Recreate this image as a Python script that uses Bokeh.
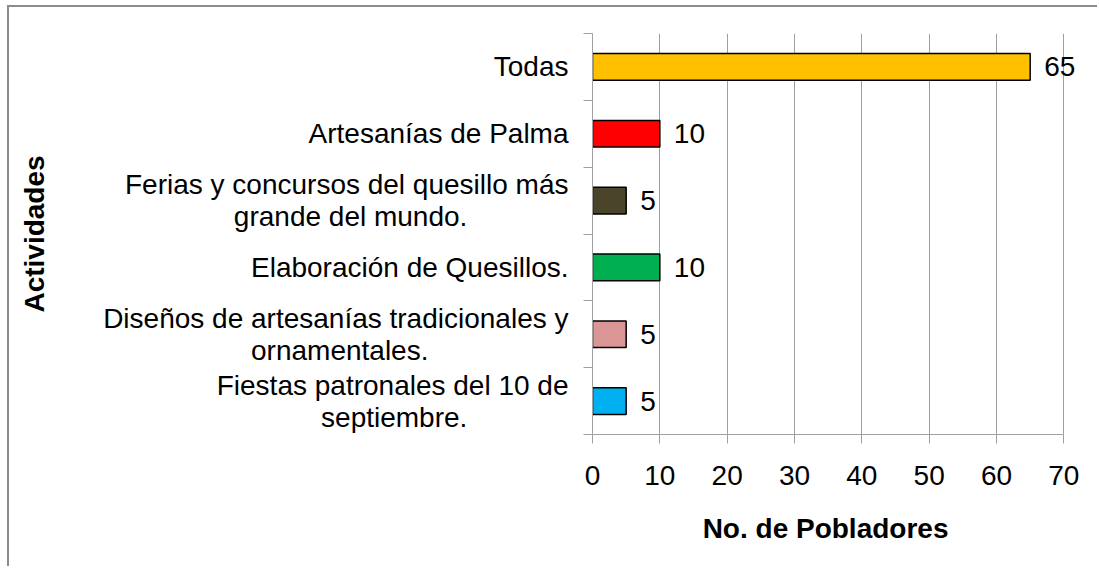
from bokeh.plotting import figure
from bokeh.models import (ColumnDataSource, Range1d, FixedTicker,
                          LinearAxis, Label)
from bokeh.embed import file_html
from bokeh.resources import INLINE

# ---- data ----
categories = [
    "Fiestas patronales del 10 de\nseptiembre.",
    "Diseños de artesanías tradicionales y\nornamentales.",
    "Elaboración de Quesillos.",
    "Ferias y concursos del quesillo más\ngrande del mundo.",
    "Artesanías de Palma",
    "Todas",
]
values = [5, 5, 10, 5, 10, 65]
colors = ["#00B0F0", "#D99694", "#00B050", "#4A452A", "#FF0000", "#FFC000"]
x_ticks = [0, 10, 20, 30, 40, 50, 60, 70]
x_title = "No. de Pobladores"
y_title = "Actividades"

FONT = "Liberation Sans"
FS = "28px"
GRAY = "#A0A0A0"

# approximate glyph widths (em) to center the lines of multi-line labels
_W = {'i': .222, 'l': .222, 'j': .222, 'í': .278, 't': .278, 'f': .278,
      'r': .333, ' ': .278, '.': .278, 'm': .833, 'y': .5, 's': .5, 'c': .5,
      'k': .5, 'v': .5, 'x': .5, 'z': .5, 'F': .611, 'D': .722, 'E': .667,
      'T': .611, 'A': .667, 'P': .667, 'Q': .778}


def _width(s):
    return sum(_W.get(ch, .556) for ch in s)


def centered(label):
    lines = label.split("\n")
    if len(lines) == 1:
        return label
    wmax = max(_width(l) for l in lines)
    out = []
    for l in lines:
        pad = int(round((wmax - _width(l)) / 2 / .278))
        out.append(l + "\u00a0" * pad)
    return "\n".join(out)


n = len(categories)
centers = [i + 0.5 for i in range(n)]
bounds = list(range(n + 1))
x_max = x_ticks[-1]
x_view = 75  # frame reaches a little past 70 so the "65" label is not clipped

src = ColumnDataSource(dict(y=centers, val=values, color=colors))

p = figure(y_range=Range1d(0, n), x_range=Range1d(0, x_view),
           width=1090, height=561, output_backend="svg", toolbar_location=None,
           y_axis_location=None, x_axis_location="below",
           min_border_left=583, min_border_right=2, min_border_top=26,
           min_border_bottom=134)
p.outline_line_color = None
p.styles = {"margin-left": "7px", "margin-top": "5px",
            "border-left": "2px solid #8C8C8C",
            "border-top": "2px solid #8C8C8C"}

p.hbar(y="y", right="val", left=0, height=0.4, source=src,
       fill_color="color", line_color="black", line_width=1.5)

# grid
p.ygrid.visible = False
p.xgrid.grid_line_color = GRAY
p.xgrid.grid_line_width = 1
p.xgrid.ticker = FixedTicker(ticks=x_ticks)

# x axis (axis line stops at 70; title re-centred on 0..70 with trailing nbsp)
xa = p.xaxis[0]
xa.bounds = (0, x_max)
xa.ticker = FixedTicker(ticks=x_ticks)
xa.axis_line_color = GRAY
xa.major_tick_line_color = GRAY
xa.major_tick_out = 9
xa.major_tick_in = 0
xa.minor_tick_line_color = None
xa.major_label_text_font = FONT
xa.major_label_text_font_size = FS
xa.major_label_text_color = "black"
xa.major_label_standoff = 22
xa.axis_label = x_title + "\u00a0" * 5
xa.axis_label_text_font = FONT
xa.axis_label_text_font_size = FS
xa.axis_label_text_font_style = "bold"
xa.axis_label_text_color = "black"
xa.axis_label_standoff = 25

# inner y axis: category boundary ticks
inner = LinearAxis(ticker=FixedTicker(ticks=bounds),
                   major_label_overrides={b: "" for b in bounds},
                   major_label_standoff=0, major_tick_out=9, major_tick_in=0,
                   minor_tick_line_color=None, axis_line_color=GRAY,
                   major_tick_line_color=GRAY)
p.add_layout(inner, "left")

# outer y axis: category labels
outer = LinearAxis(ticker=FixedTicker(ticks=centers),
                   major_label_overrides={c: centered(t) for c, t in zip(centers, categories)},
                   major_tick_line_color=None, major_tick_out=0,
                   major_tick_in=0, axis_line_color=None,
                   minor_tick_line_color=None,
                   major_label_standoff=15,
                   major_label_text_font=FONT,
                   major_label_text_font_size=FS,
                   major_label_text_color="black",
                   major_label_text_line_height=1.03,
                   axis_label=y_title, axis_label_text_font=FONT,
                   axis_label_text_font_size=FS,
                   axis_label_text_font_style="bold",
                   axis_label_text_color="black",
                   axis_label_standoff=50)
p.add_layout(outer, "left")

for yv, v in zip(centers, values):
    p.add_layout(Label(x=v, y=yv, text=str(v), x_offset=14,
                       text_baseline="middle", text_font=FONT,
                       text_font_size=FS, text_color="black"))

open("out.html", "w").write(file_html(p, INLINE))
